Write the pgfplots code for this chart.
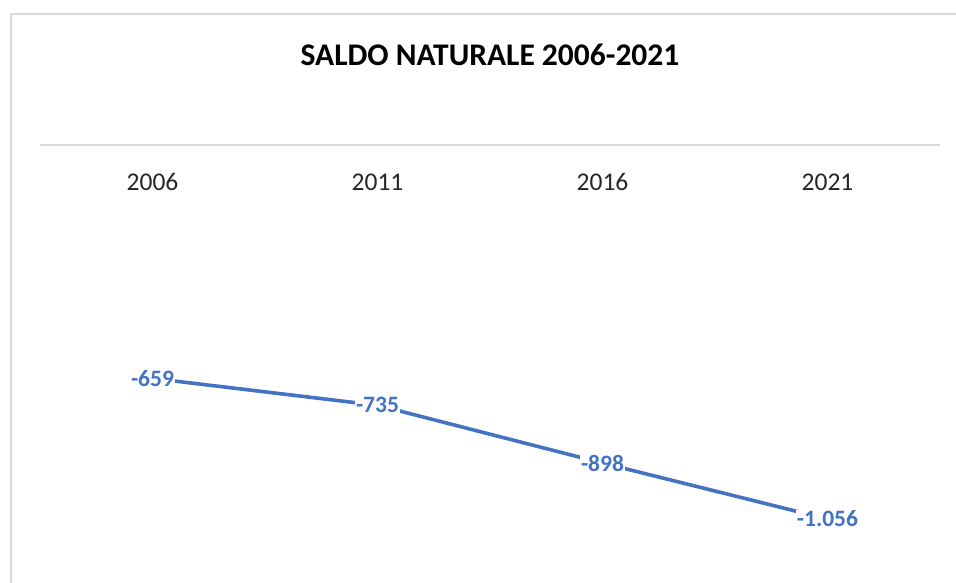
\documentclass[border=0pt]{standalone}
\usepackage{pgfplots}
\pgfplotsset{compat=1.18}
\usepackage{fontspec}
\setmainfont{Carlito}
\definecolor{lineblue}{HTML}{4472C4}
\definecolor{framegray}{HTML}{D9D9D9}
\begin{document}
\begin{tikzpicture}
\useasboundingbox (0bp,0bp) rectangle (956bp,-583bp);
\draw[framegray, line width=1.5bp] (11bp,-600bp) -- (11bp,-14bp) -- (970bp,-14bp);
\node[font=\fontsize{31.5bp}{36bp}\selectfont\bfseries] at (490bp,-55bp) {SALDO NATURALE 2006-2021};
\begin{axis}[
  at={(40bp,-145bp)}, anchor=north west,
  scale only axis, width=900bp, height=425bp,
  xmin=-0.5, xmax=3.5, ymin=-1200, ymax=0,
  axis lines=none,
  clip=false,
]
\draw[framegray, line width=1.5bp] (axis cs:-0.5,0) -- (axis cs:3.5,0);
\addplot[lineblue, line width=3.6bp, mark=none] coordinates {(0,-659) (1,-735) (2,-898) (3,-1056)};
\addplot[draw=none, mark=none,
  nodes near coords,
  point meta=explicit symbolic,
  every node near coord/.style={anchor=center, fill=white, inner sep=1bp, text=lineblue,
    font=\fontsize{23.5bp}{28bp}\selectfont\bfseries}]
  coordinates {(0,-659) [-659] (1,-735) [-735] (2,-898) [-898] (3,-1056) [-1.056]};
\foreach \i/\y in {0/2006,1/2011,2/2016,3/2021}{
  \edef\tmp{\noexpand\node[font=\noexpand\fontsize{25.5bp}{30bp}\noexpand\selectfont, text=black!85] at (axis cs:\i,-105) {\y};}
  \tmp
}
\end{axis}
\end{tikzpicture}
\end{document}
